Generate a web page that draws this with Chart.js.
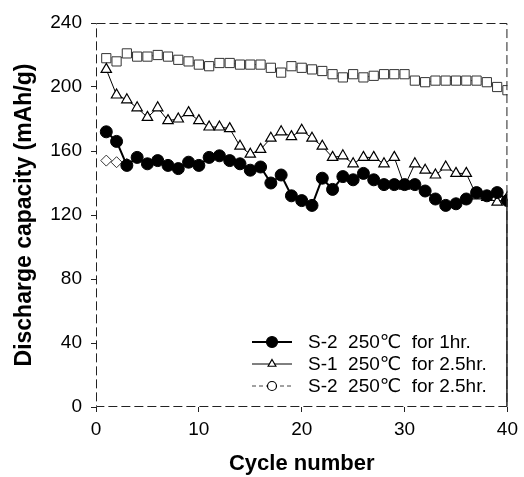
<!DOCTYPE html>
<html lang="en">
<head>
    <meta charset="UTF-8">
    <title>Discharge capacity vs cycle number</title>
    <script src="https://cdn.jsdelivr.net/npm/chart.js"></script>
    <style>
        body {
            margin: 0;
            background: #ffffff;
        }

        .chart-box {
            width: 524px;
            height: 477px;
            position: relative;
        }
    </style>
</head>
<body>
    <div class="chart-box">
        <canvas id="capacityChart"></canvas>
    </div>

    <script>
        // Data
        const cycles = [1, 2, 3, 4, 5, 6, 7, 8, 9, 10,
                        11, 12, 13, 14, 15, 16, 17, 18, 19, 20,
                        21, 22, 23, 24, 25, 26, 27, 28, 29, 30,
                        31, 32, 33, 34, 35, 36, 37, 38, 39, 40];

        const s2OneHour = [172, 166, 151, 156, 152, 154, 151, 149, 153, 151,
                           156, 157, 154, 152, 148, 150, 140, 145, 132, 129,
                           126, 143, 136, 144, 142, 146, 142, 139, 139, 139,
                           139, 135, 130, 126, 127, 130, 134, 132, 134, 129];

        const s1TwoHalfHours = [211, 195, 192, 187, 181, 187, 179, 180, 184, 179,
                                175, 175, 174, 163, 158, 161, 168, 172, 169, 173,
                                168, 163, 156, 157, 152, 156, 156, 152, 156, 138,
                                152, 148, 145, 150, 146, 146, 132, 131, 128, 131];

        const s2TwoHalfHours = [218, 216, 221, 219, 219, 220, 219, 217, 216, 214,
                                213, 215, 215, 214, 214, 214, 212, 209, 213, 212,
                                211, 210, 208, 206, 208, 206, 207, 208, 208, 208,
                                204, 203, 204, 204, 204, 204, 204, 203, 200, 198];

        // stray open markers near the start of the plot
        const strayCycles = [1, 2, 3];
        const strayValues = [154, 153, 152];

        const xTicks = [0, 10, 20, 30, 40];
        const yTicks = [0, 40, 80, 120, 160, 200, 240];

        const seriesLabels = ['S-2  250\u2103  for 1hr.', 'S-1  250\u2103  for 2.5hr.', 'S-2  250\u2103  for 2.5hr.'];

        const fontFamily = '"Liberation Sans", Arial, "DejaVu Sans", sans-serif';

        function toPoints(xs, ys) {
            return xs.map((x, i) => ({ x: x, y: ys[i] }));
        }

        // dashed frame round the plot area
        const framePlugin = {
            id: 'frame',
            afterDraw(chart) {
                const { ctx, chartArea } = chart;
                const l = chartArea.left + 0.5, r = chartArea.right - 0.5;
                const t = chartArea.top + 0.5, b = chartArea.bottom - 0.5;
                ctx.save();
                ctx.strokeStyle = '#222';
                ctx.lineWidth = 1;
                ctx.setLineDash([9, 4]);
                ctx.strokeRect(l, t, r - l, b - t);
                // lower part of the right edge is solid in the original
                ctx.setLineDash([]);
                ctx.lineWidth = 1.5;
                ctx.beginPath();
                ctx.moveTo(r, chart.scales.y.getPixelForValue(130));
                ctx.lineTo(r, b);
                ctx.stroke();
                ctx.restore();
            }
        };

        // legend inside the plot, lower right
        const legendPlugin = {
            id: 'insideLegend',
            afterDraw(chart) {
                const ctx = chart.ctx;
                const rows = chart.data.datasets.filter(ds => ds.legendRow !== undefined);
                ctx.save();
                rows.forEach(ds => {
                    const y = 342 + ds.legendRow * 22;
                    ctx.strokeStyle = ds.borderColor;
                    ctx.lineWidth = ds.borderWidth;
                    ctx.setLineDash(ds.borderDash || []);
                    ctx.beginPath();
                    ctx.moveTo(252, y);
                    ctx.lineTo(292, y);
                    ctx.stroke();
                    ctx.setLineDash([]);
                    ctx.fillStyle = ds.pointBackgroundColor;
                    ctx.strokeStyle = '#000';
                    ctx.lineWidth = 1.2;
                    Chart.helpers.drawPoint(ctx, {
                        pointStyle: ds.legendStyle,
                        radius: ds.legendRadius,
                        borderWidth: 1.2
                    }, 272, y);
                    ctx.fillStyle = '#000';
                    ctx.font = '19px ' + fontFamily;
                    ctx.textBaseline = 'middle';
                    ctx.fillText(ds.label, 308, y + 1);
                });
                ctx.restore();
            }
        };

        const ctx = document.getElementById('capacityChart').getContext('2d');

        const chart = new Chart(ctx, {
            type: 'line',
            data: {
                datasets: [
                    {
                        label: seriesLabels[2],
                        legendRow: 2,
                        legendStyle: 'circle',
                        legendRadius: 4.5,
                        data: toPoints(cycles, s2TwoHalfHours),
                        borderColor: '#444',
                        borderWidth: 1,
                        borderDash: [4, 3],
                        pointStyle: 'rect',
                        pointRadius: 6.5,
                        pointBorderWidth: 1,
                        pointBorderColor: '#333',
                        pointBackgroundColor: '#fff',
                        order: 3
                    },
                    {
                        label: seriesLabels[1],
                        legendRow: 1,
                        legendStyle: 'triangle',
                        legendRadius: 4.5,
                        data: toPoints(cycles, s1TwoHalfHours),
                        borderColor: '#000',
                        borderWidth: 1,
                        pointStyle: 'triangle',
                        pointRadius: 6,
                        pointBorderWidth: 1.2,
                        pointBorderColor: '#000',
                        pointBackgroundColor: '#fff',
                        order: 2
                    },
                    {
                        label: seriesLabels[0],
                        legendRow: 0,
                        legendStyle: 'circle',
                        legendRadius: 5.5,
                        data: toPoints(cycles, s2OneHour),
                        borderColor: '#000',
                        borderWidth: 2,
                        pointStyle: 'circle',
                        pointRadius: 6,
                        pointBorderWidth: 1,
                        pointBorderColor: '#000',
                        pointBackgroundColor: '#000',
                        order: 1
                    },
                    {
                        label: 'stray',
                        data: toPoints(strayCycles, strayValues),
                        borderColor: '#444',
                        borderWidth: 1,
                        borderDash: [3, 3],
                        pointStyle: 'rectRot',
                        pointRadius: 5.5,
                        pointBorderWidth: 1,
                        pointBorderColor: '#333',
                        pointBackgroundColor: '#fff',
                        order: 4
                    }
                ]
            },
            options: {
                responsive: true,
                maintainAspectRatio: false,
                animation: false,
                layout: {
                    padding: { top: 23, right: 14, left: 0, bottom: 0 }
                },
                plugins: {
                    legend: { display: false },
                    tooltip: { enabled: false }
                },
                elements: {
                    line: { tension: 0 }
                },
                scales: {
                    x: {
                        type: 'linear',
                        min: 0,
                        max: 40,
                        afterFit: function (scale) { scale.height = 70; },
                        afterBuildTicks: function (scale) {
                            scale.ticks = xTicks.map(v => ({ value: v }));
                        },
                        grid: { drawOnChartArea: false, tickLength: 5, color: '#222' },
                        border: { display: false },
                        ticks: {
                            color: '#000',
                            padding: 6,
                            maxRotation: 0,
                            font: { family: fontFamily, size: 19 }
                        },
                        title: {
                            display: true,
                            text: 'Cycle number',
                            color: '#000',
                            padding: { top: 0, bottom: 0 },
                            font: { family: fontFamily, size: 22, weight: 'bold' }
                        }
                    },
                    y: {
                        min: 0,
                        max: 240,
                        afterFit: function (scale) { scale.width = 96; },
                        afterBuildTicks: function (scale) {
                            scale.ticks = yTicks.map(v => ({ value: v }));
                        },
                        grid: { drawOnChartArea: false, tickLength: 5, color: '#222' },
                        border: { display: false },
                        ticks: {
                            color: '#000',
                            padding: 9,
                            font: { family: fontFamily, size: 19 }
                        },
                        title: {
                            display: true,
                            text: 'Discharge capacity (mAh/g)',
                            color: '#000',
                            padding: { top: 11, bottom: 0 },
                            font: { family: fontFamily, size: 23, weight: 'bold' }
                        }
                    }
                }
            },
            plugins: [framePlugin, legendPlugin]
        });
    </script>
</body>
</html>
